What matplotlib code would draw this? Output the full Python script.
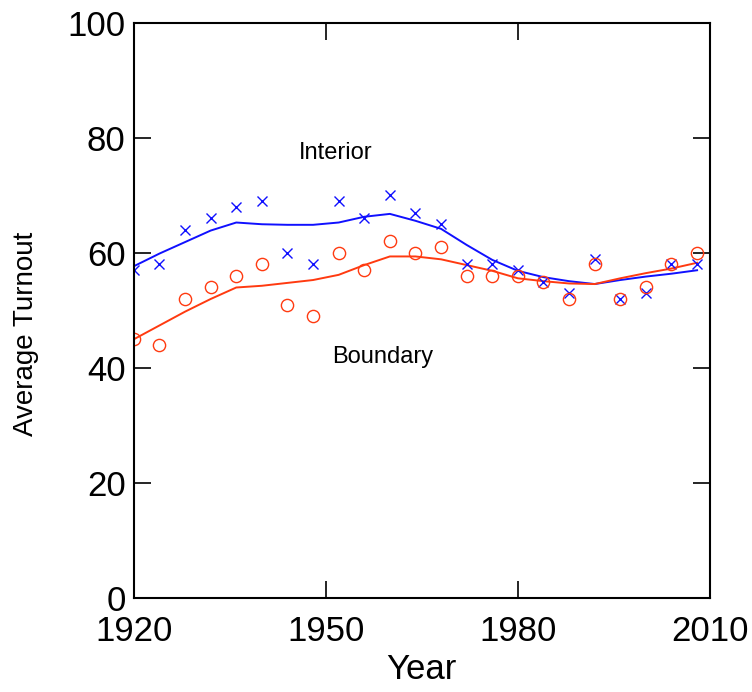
import matplotlib
matplotlib.use("Agg")
import matplotlib.pyplot as plt

plt.rcParams['font.family'] = ['Liberation Sans', 'DejaVu Sans']

years = [1920, 1924, 1928, 1932, 1936, 1940, 1944, 1948, 1952, 1956, 1960, 1964,
         1968, 1972, 1976, 1980, 1984, 1988, 1992, 1996, 2000, 2004, 2008]
interior_pts = [57, 58, 64, 66, 68, 69, 60, 58, 69, 66, 70, 67,
                65, 58, 58, 57, 55, 53, 59, 52, 53, 58, 58]
boundary_pts = [45, 44, 52, 54, 56, 58, 51, 49, 60, 57, 62, 60,
                61, 56, 56, 56, 55, 52, 58, 52, 54, 58, 60]
interior_fit = [57.7, 59.9, 61.9, 63.9, 65.3, 65.0, 64.9, 64.9, 65.3, 66.3, 66.8, 65.6,
                64.2, 61.4, 58.8, 56.9, 55.8, 55.1, 54.6, 55.3, 55.9, 56.4, 57.0]
boundary_fit = [45.0, 47.4, 49.8, 52.0, 54.0, 54.3, 54.8, 55.3, 56.2, 57.9, 59.4, 59.4,
                58.9, 57.9, 56.9, 55.6, 55.1, 54.7, 54.6, 55.6, 56.5, 57.3, 58.3]

xticks = [1920, 1950, 1980, 2010]
yticks = [0, 20, 40, 60, 80, 100]

blue = '#1010ff'
red = '#ff3a10'

fig = plt.figure(figsize=(7.52, 6.92), dpi=100)
ax = fig.add_axes([0.178, 0.1358, 0.766, 0.831])

ax.plot(years, interior_fit, color=blue, lw=1.4)
ax.plot(years, boundary_fit, color=red, lw=1.4)
ax.plot(years, interior_pts, linestyle='none', marker='x', color=blue, ms=7.5, mew=1.0)
ax.plot(years, boundary_pts, linestyle='none', marker='o', mfc='none', mec=red, ms=8.8, mew=1.0)

ax.text(1951.6, 77.4, 'Interior', fontsize=17, ha='center', va='center')
ax.text(1958.8, 41.9, 'Boundary', fontsize=17, ha='center', va='center')

ax.set_xlim(1920, 2010)
ax.set_ylim(0, 100)
ax.set_xticks(xticks)
ax.set_yticks(yticks)
ax.tick_params(direction='in', length=12, width=1.2, labelsize=25,
               top=True, right=True)
ax.tick_params(axis='x', pad=12)
ax.tick_params(axis='y', pad=6)
for s in ax.spines.values():
    s.set_linewidth(1.5)
ax.set_xlabel('Year', fontsize=25, labelpad=4)
ax.set_ylabel('Average Turnout', fontsize=20)
ax.yaxis.set_label_coords(-0.165, 0.459)

fig.savefig('out.png', dpi=100)
